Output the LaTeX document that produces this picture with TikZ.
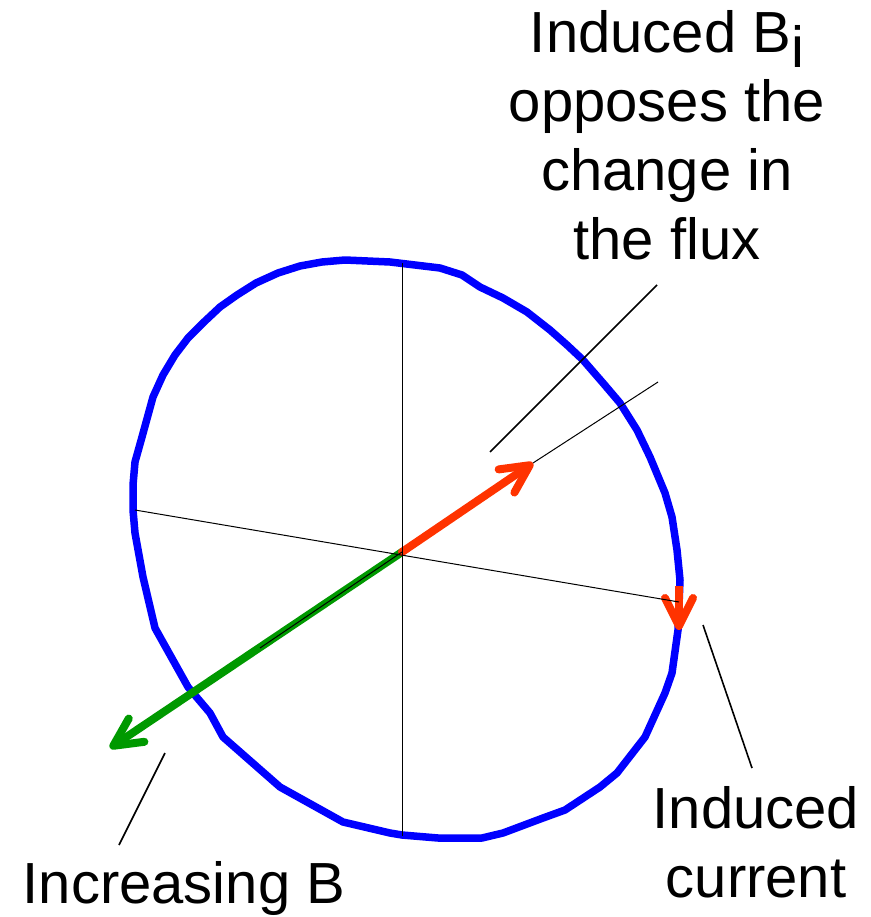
\documentclass[tikz,border=0pt]{standalone}
\usepackage{fontspec}
\setmainfont{Liberation Sans}
\usetikzlibrary{arrows.meta}
\definecolor{loopblue}{RGB}{0,0,255}
\definecolor{bired}{RGB}{255,51,0}
\definecolor{bgreen}{RGB}{0,153,0}
\begin{document}
\begin{tikzpicture}[x=1pt,y=-1pt,
  loopline/.style={draw=loopblue,line width=7.5pt,line join=round},
  thinline/.style={draw=black,line width=1pt},
  leader/.style={draw=black,line width=1.6pt},
  vec/.style={line width=8pt,line cap=round,-{Straight Barb[length=28pt,width=28pt,line cap=round,line join=round]}},
  lbl/.style={font=\fontsize{58}{69}\selectfont,inner sep=0pt,align=center}]
\useasboundingbox (0,0) rectangle (870,917);
% loop
\coordinate (c) at (402,552);
\draw[loopline] (345,260) -- (390,262) -- (440,268) -- (462,275) -- (480,287) -- (503,298) -- (527,312) -- (550,330) -- (567,345) -- (583,360) -- (603,383) -- (620,403) -- (637,430) -- (650,457) -- (665,493) -- (672,517) -- (677,550) -- (680,580) -- (678,630) -- (672,673) -- (665,693) -- (645,737) -- (617,773) -- (600,787) -- (565,810) -- (543,818) -- (503,833) -- (482,838) -- (438,838) -- (402,835) -- (390,833) -- (343,822) -- (280,787) -- (223,737) -- (210,713) -- (188,687) -- (155,628) -- (143,577) -- (135,533) -- (133,510) -- (133,485) -- (135,462) -- (142,437) -- (153,397) -- (163,375) -- (175,355) -- (188,338) -- (204,322) -- (220,307) -- (237,295) -- (256,283) -- (278,273) -- (300,266) -- (322,262) -- cycle;
% arrows
\coordinate (redtip) at (533,463);
\coordinate (greentip) at (110,748);
\coordinate (curstart) at (679,586);
\coordinate (curtip) at (679,630);
\draw[vec,draw=bgreen] (c) -- (greentip);
\draw[vec,draw=bired] (c) -- (redtip);
\draw[vec,draw=bired,line cap=butt] (curstart) -- (curtip);
% thin lines
\coordinate (vtop) at (402,263);
\coordinate (vbot) at (402,836);
\coordinate (sleft) at (135,510);
\coordinate (sright) at (679,602);
\coordinate (gin) at (260,648);
\coordinate (redext) at (658,382);
\draw[thinline] (vtop) -- (vbot);
\draw[thinline] (sleft) -- (sright);
\draw[thinline] (c) -- (gin);
\draw[thinline] (redtip) -- (redext);
% labels
\node[lbl,anchor=north] (bi) at (667,10) {Induced B\raisebox{-15pt}{i}\\opposes the\\change in\\the flux};
\node[lbl,anchor=north] (cur) at (756,786) {Induced\\current};
\node[lbl,anchor=base] (incb) at (184,903) {Increasing B};
% leaders
\coordinate (l1a) at (490,452);
\coordinate (l1b) at (657,285);
\coordinate (l2a) at (703,625);
\coordinate (l2b) at (752,768);
\coordinate (l3a) at (165,753);
\coordinate (l3b) at (119,845);
\draw[leader] (l1a) -- (l1b);
\draw[leader] (l2a) -- (l2b);
\draw[leader] (l3a) -- (l3b);
\end{tikzpicture}
\end{document}
